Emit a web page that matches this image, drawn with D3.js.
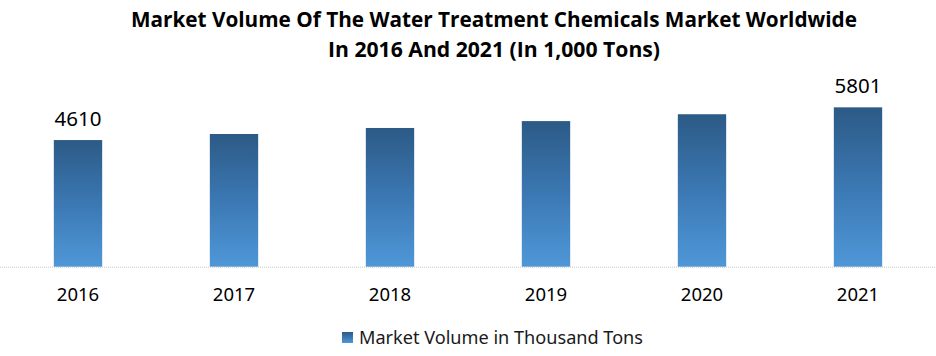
<!DOCTYPE html>
<html>
<head>
<meta charset="utf-8">
<script src="https://cdn.jsdelivr.net/npm/d3@7"></script>
<style>
  html, body { margin: 0; padding: 0; background: #fff; }
  svg { display: block; }
</style>
</head>
<body>
<svg id="chart" width="936" height="356"></svg>
<script>
const years = ["2016", "2017", "2018", "2019", "2020", "2021"];
const volumes = [4610, 4830, 5050, 5300, 5550, 5801];
const labelled = ["2016", "2021"];
const titleLines = [
  "Market Volume Of The Water Treatment Chemicals Market Worldwide",
  "In 2016 And 2021 (In 1,000 Tons)"
];
const legendLabel = "Market Volume in Thousand Tons";

const svg = d3.select("#chart");
const W = 936;

const defs = svg.append("defs");
const grad = defs.append("linearGradient")
  .attr("id", "barGrad").attr("x1", 0).attr("y1", 0).attr("x2", 0).attr("y2", 1);
grad.append("stop").attr("offset", "0%").attr("stop-color", "#2c5a86");
grad.append("stop").attr("offset", "50%").attr("stop-color", "#3b78b3");
grad.append("stop").attr("offset", "100%").attr("stop-color", "#4f97d8");

// Title
const titleWidths = [726, 332];
svg.append("g").selectAll("text").data(titleLines).join("text")
  .attr("x", 494)
  .attr("y", (d, i) => 27 + i * 29.5)
  .attr("text-anchor", "middle")
  .attr("font-family", "'Open Sans', sans-serif")
  .attr("font-weight", "bold")
  .attr("font-size", 21)
  .attr("fill", "#000")
  .attr("textLength", (d, i) => titleWidths[i])
  .attr("lengthAdjust", "spacingAndGlyphs")
  .text(d => d);

// Scales
const x = d3.scaleBand().domain(years).range([0, W]).paddingInner(0.69).paddingOuter(0.345);
const y = d3.scaleLinear().domain([0, 7000]).range([266.7, 74.4]);

// Baseline
svg.append("line")
  .attr("x1", 0).attr("x2", W)
  .attr("y1", 267.2).attr("y2", 267.2)
  .attr("stroke", "#c8c8c8").attr("stroke-width", 1)
  .attr("stroke-dasharray", "1,1");

// Bars
svg.append("g").selectAll("rect").data(years).join("rect")
  .attr("x", d => x(d))
  .attr("width", x.bandwidth())
  .attr("y", (d, i) => y(volumes[i]))
  .attr("height", (d, i) => y(0) - y(volumes[i]))
  .attr("fill", "url(#barGrad)");

// Value labels
svg.append("g").selectAll("text").data(years.filter(d => labelled.includes(d))).join("text")
  .attr("x", d => x(d) + x.bandwidth() / 2)
  .attr("y", d => y(volumes[years.indexOf(d)]) - 14.5)
  .attr("text-anchor", "middle")
  .attr("font-family", "'Noto Sans', sans-serif")
  .attr("font-size", 20.5)
  .attr("fill", "#000")
  .text(d => volumes[years.indexOf(d)]);

// X axis
const xAxis = svg.append("g")
  .attr("transform", "translate(0,267)")
  .call(d3.axisBottom(x).tickSize(0).tickPadding(34));
xAxis.select(".domain").remove();
xAxis.selectAll("text")
  .attr("font-family", "'Noto Sans', sans-serif")
  .attr("font-size", 18.5)
  .attr("fill", "#000")
  .attr("dy", 0);

// Legend
const lg = svg.append("g");
lg.append("rect").attr("x", 342).attr("y", 332).attr("width", 11).attr("height", 11)
  .attr("fill", "url(#barGrad)");
lg.append("text").attr("x", 359).attr("y", 344)
  .attr("font-family", "'Noto Sans', sans-serif")
  .attr("font-size", 18)
  .attr("fill", "#1a1a1a")
  .attr("textLength", 284)
  .attr("lengthAdjust", "spacingAndGlyphs")
  .text(legendLabel);
</script>
</body>
</html>
